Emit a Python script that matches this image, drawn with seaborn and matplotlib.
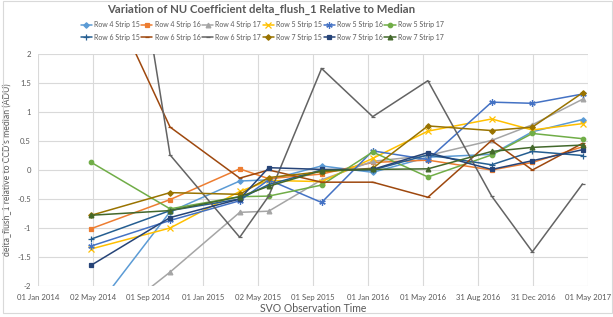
import matplotlib
matplotlib.use("Agg")
import matplotlib.pyplot as plt
import matplotlib.dates as mdates
import seaborn as sns
import pandas as pd
import numpy as np
from matplotlib.patches import Rectangle

# ---- data ----
dates = ["2014-04-29", "2014-10-20", "2015-03-23", "2015-05-26", "2015-09-20",
         "2016-01-11", "2016-05-12", "2016-09-30", "2016-12-29", "2017-04-19"]

series_names = ["Row 4 Strip 15", "Row 4 Strip 16", "Row 4 Strip 17",
                "Row 5 Strip 15", "Row 5 Strip 16", "Row 5 Strip 17",
                "Row 6 Strip 15", "Row 6 Strip 16", "Row 6 Strip 17",
                "Row 7 Strip 15", "Row 7 Strip 16", "Row 7 Strip 17"]

r4s15 = [-2.49, -0.72, -0.19, -0.17, 0.07, -0.04, 0.22, 0.27, 0.66, 0.87]
r4s16 = [-1.01, -0.51, 0.02, -0.15, -0.07, 0.13, 0.17, 0.00, 0.13, 0.40]
r4s17 = [-2.83, -1.76, -0.73, -0.71, -0.17, 0.15, 0.25, 0.51, 0.78, 1.22]
r5s15 = [-1.36, -1.00, -0.37, -0.18, -0.20, 0.20, 0.67, 0.88, 0.69, 0.80]
r5s16 = [-1.31, -0.87, -0.53, -0.17, -0.56, 0.33, 0.18, 1.17, 1.15, 1.31]
r5s17 = [0.13, -0.67, -0.46, -0.45, -0.26, 0.31, -0.12, 0.26, 0.63, 0.54]
r6s15 = [-1.19, -0.70, -0.50, -0.25, 0.00, 0.00, 0.26, 0.09, 0.32, 0.25]
r6s16 = [3.65, 0.74, -0.14, 0.00, -0.21, -0.21, -0.47, 0.51, 0.00, 0.46]
r6s17 = [8.70, 0.26, -1.16, -0.45, 1.75, 0.92, 1.54, -0.45, -1.41, -0.24]
r7s15 = [-0.78, -0.39, -0.42, -0.13, -0.03, 0.03, 0.76, 0.68, 0.74, 1.33]
r7s16 = [-1.64, -0.82, -0.50, 0.04, 0.01, 0.01, 0.30, 0.01, 0.16, 0.35]
r7s17 = [-0.78, -0.70, -0.46, -0.28, -0.01, 0.01, 0.02, 0.32, 0.39, 0.43]

values = [r4s15, r4s16, r4s17, r5s15, r5s16, r5s17,
          r6s15, r6s16, r6s17, r7s15, r7s16, r7s17]

xtick_labels = ["01 Jan 2014", "02 May 2014", "01 Sep 2014", "01 Jan 2015",
                "02 May 2015", "01 Sep 2015", "01 Jan 2016", "01 May 2016",
                "31 Aug 2016", "31 Dec 2016", "01 May 2017"]

# ---- styles ----
colors = ["#5B9BD5", "#ED7D31", "#A5A5A5", "#FFC000", "#4472C4", "#70AD47",
          "#255E91", "#9E480E", "#636363", "#997300", "#264478", "#43682B"]
markers = ["D", "s", "^", "x", (6, 2, 0), "o", "+", "_", "_", "D", "s", "^"]
msizes = [2.8, 3.2, 3.4, 4, 4.6, 3.2, 4.6, 3.5, 3.5, 2.8, 3.2, 3.4]

sns.set_theme(style="white")
plt.rcParams["font.family"] = ["Lato", "DejaVu Sans"]
txt = "#595959"

df = pd.DataFrame({
    "date": np.tile(pd.to_datetime(dates), len(series_names)),
    "value": np.concatenate(values),
    "series": np.repeat(series_names, len(dates)),
})

fig = plt.figure(figsize=(6.13, 3.17), dpi=100)
ax = fig.add_axes([38 / 613, 1 - 286 / 317, 550 / 613, 232 / 317])

handles = []
for name, c, m, ms in zip(series_names, colors, markers, msizes):
    sub = df[df["series"] == name]
    sns.lineplot(data=sub, x="date", y="value", ax=ax, color=c, marker=m,
                 markersize=ms, markeredgecolor=c, markerfacecolor=c,
                 markeredgewidth=0.9, linewidth=1.1, estimator=None,
                 label=name, legend=False)
    handles.append(ax.lines[-1])

start = mdates.date2num(pd.Timestamp("2014-01-01"))
end = mdates.date2num(pd.Timestamp("2017-05-01"))
ax.set_xlim(start, end)
ax.set_ylim(-2, 2)
ax.set_xticks(np.linspace(start, end, 11))
ax.set_xticklabels(xtick_labels)
ax.set_yticks([-2, -1.5, -1, -0.5, 0, 0.5, 1, 1.5, 2])
ax.set_yticklabels(["-2", "-1.5", "-1", "-0.5", "0", "0.5", "1", "1.5", "2"])
ax.grid(True, color="#D9D9D9", linewidth=0.8)
ax.set_axisbelow(True)
for s in ax.spines.values():
    s.set_visible(False)
ax.tick_params(axis="x", length=0, labelsize=5.6, colors=txt, pad=6)
ax.tick_params(axis="y", length=0, labelsize=5.6, colors=txt, pad=5)

ax.set_xlabel("SVO Observation Time", fontsize=7.6, color=txt, labelpad=1.5)
ax.set_ylabel("delta_flush_1 relative to CCD's median (ADU)", fontsize=6.2,
              color=txt, labelpad=4)

fig.text(261 / 613, 1 - 9 / 317,
         "Variation of NU Coefficient delta_flush_1 Relative to Median",
         ha="center", va="center", fontsize=8.2, fontweight="bold", color=txt)

order = []
for i in range(6):
    order += [i, i + 6]
leg = fig.legend([handles[i] for i in order], [series_names[i] for i in order],
                 ncol=6, loc="center", bbox_to_anchor=(262 / 613, 1 - 31 / 317),
                 frameon=False, fontsize=5.0, handlelength=1.6,
                 handletextpad=0.3, columnspacing=0.25, labelspacing=0.8)
for t in leg.get_texts():
    t.set_color(txt)

# chart frame like the reference screenshot
fig.patches.append(Rectangle((3 / 613, 4 / 317), 609 / 613, 312 / 317,
                             transform=fig.transFigure, fill=False,
                             edgecolor="#D9D9D9", linewidth=0.8))

fig.savefig("out.png", dpi=100)
